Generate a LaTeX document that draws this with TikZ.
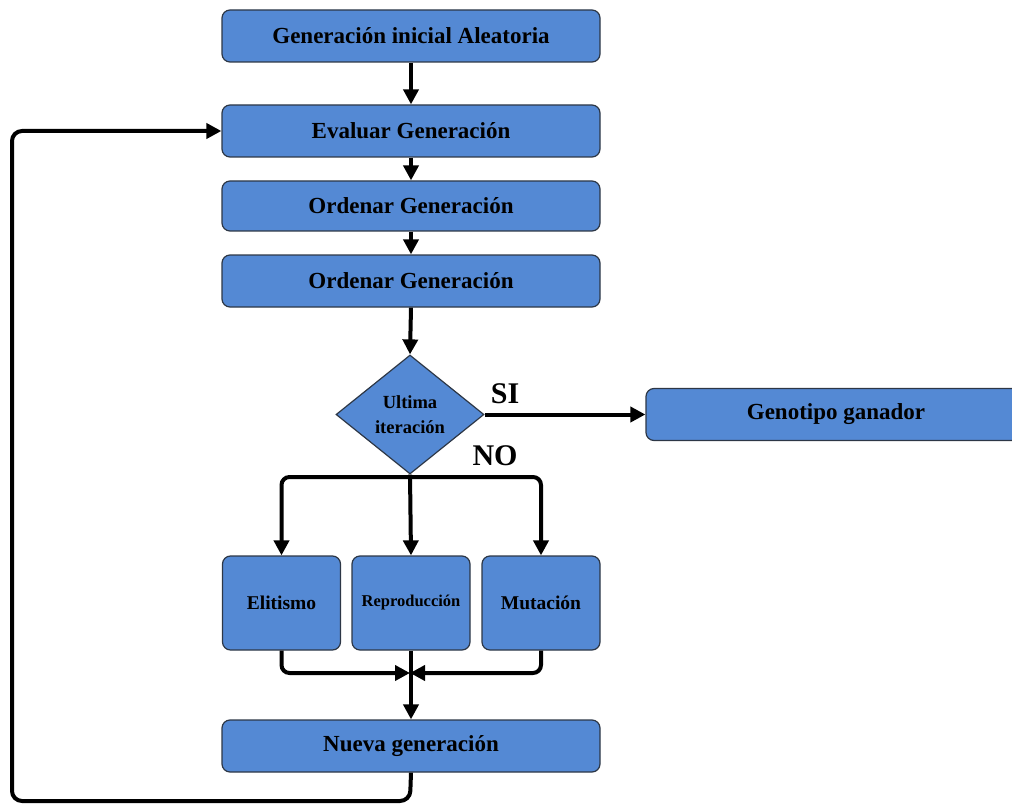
\documentclass[tikz,border=0pt]{standalone}
\usepackage{fontspec}
\setmainfont{Liberation Serif}
\usetikzlibrary{arrows.meta,shapes.geometric}
\definecolor{boxblue}{RGB}{84,137,212}
\definecolor{boxedge}{RGB}{45,55,70}
\tikzset{
  proc/.style={draw=boxedge,line width=1.2pt,fill=boxblue,rounded corners=8pt,
    minimum width=378pt,minimum height=52pt,inner sep=0pt,
    font=\fontsize{23}{26}\selectfont\bfseries},
  small/.style={proc,minimum width=118pt,minimum height=94pt,font=\fontsize{19.5}{22}\selectfont\bfseries},
  dec/.style={diamond,draw=boxedge,line width=1.2pt,fill=boxblue,minimum width=148pt,minimum height=119pt,
    inner sep=0pt,aspect=1.24,align=center,font=\fontsize{18.5}{25}\selectfont\bfseries},
  conn/.style={line width=4pt,-{Triangle[length=15pt,width=15pt]}},
  lbl/.style={font=\fontsize{30}{32}\selectfont\bfseries},
}
\begin{document}
\begin{tikzpicture}[x=1pt,y=-1pt]
\useasboundingbox (0,0) rectangle (1012,805);
\begin{scope}
\clip (0,0) rectangle (1012,805);
\node[proc] (ini) at (411,36) {Generación inicial Aleatoria};
\node[proc] (eva) at (411,131) {Evaluar Generación};
\node[proc,minimum height=50pt] (ord1) at (411,206) {Ordenar Generación};
\node[proc] (ord2) at (411,281) {Ordenar Generación};
\node[dec] (dec) at (410,414.5) {Ultima\\iteración};
\node[proc,minimum width=380pt] (gen) at (836,414.5) {Genotipo ganador};
\node[small] (eli) at (281.5,603) {Elitismo};
\node[small,font=\fontsize{16.5}{19}\selectfont\bfseries] (rep) at (411,603) {Reproducción};
\node[small] (mut) at (541,603) {Mutación};
\node[proc] (nue) at (411,746) {Nueva generación};
\node[lbl] (si) at (505,394) {SI};
\node[lbl] (no) at (495,456) {NO};

\coordinate (split) at (410,477);
\coordinate (merge) at (410,673);
\coordinate (lp1) at (410,801);
\coordinate (lp2) at (12,801);
\coordinate (lp3) at (12,131);

\draw[conn] (ini.south) -- (eva.north);
\draw[conn] (eva.south) -- (ord1.north);
\draw[conn] (ord1.south) -- (ord2.north);
\draw[conn] (ord2.south) -- (dec.north);
\draw[conn] (dec.east) -- (gen.west);
\draw[conn] (dec.south) -- (rep.north);
\draw[conn,rounded corners=8pt] (split) -| (eli.north);
\draw[conn,rounded corners=8pt] (split) -| (mut.north);
\draw[conn,rounded corners=8pt] (eli.south) |- (merge);
\draw[conn,rounded corners=8pt] (mut.south) |- (merge);
\draw[conn] (rep.south) -- (nue.north);
\draw[conn,rounded corners=10pt] (nue.south) -- (lp1) -- (lp2) -- (lp3) -- (eva.west);
\end{scope}
\end{tikzpicture}
\end{document}
